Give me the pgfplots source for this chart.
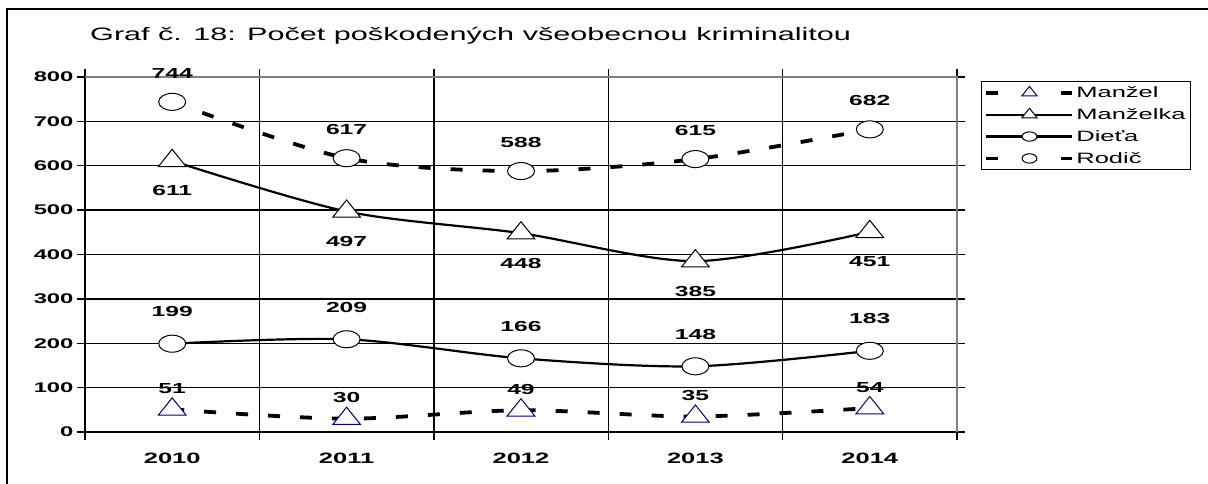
\documentclass[border=0pt]{standalone}
\usepackage{pgfplots}
\pgfplotsset{compat=1.18}
\usepackage{fontspec}
\setmainfont{Liberation Sans}[FakeStretch=1.7]
\newfontfamily\bnum{Liberation Sans}[UprightFont={* Bold}, FakeStretch=1.7]
\definecolor{navy}{RGB}{0,0,128}

\pgfplotstableread{
x manzel manzelka dieta rodic
0 51 611 199 744
1 30 497 209 617
2 49 448 166 588
3 35 385 148 615
4 54 451 183 682
}\data

\pgfplotsset{
  dashlegend/.style={legend image code/.code={
    \draw[mark repeat=2, mark phase=2, ##1, dash pattern=on 11pt off 64pt, every mark/.append style={scale=0.55}]
      plot coordinates {(0pt,0pt) (43pt,0pt) (86pt,0pt)};
  }},
}

\begin{document}
\begin{tikzpicture}[x=1pt,y=1pt]
\useasboundingbox (0,0) rectangle (1208,484);
\draw[line width=2pt] (7,0) -- (7,475) -- (1208,475);
\node[anchor=west,inner sep=0pt,font=\fontsize{18}{21}\selectfont] at (90,448) {Graf č. 18: Počet poškodených všeobecnou kriminalitou};
\begin{axis}[
  at={(172.2pt,52pt)}, anchor=origin,
  scale only axis, width=872pt, height=355pt,
  xmin=-0.5, xmax=4.5, ymin=0, ymax=800,
  xtick={0,...,4}, xticklabels={2010,2011,2012,2013,2014},
  minor xtick={-0.5,0.5,...,4.5},
  ytick={0,100,...,800},
  major x tick style={draw=none},
  tick align=outside, major tick length=8pt, minor tick length=8pt,
  xminorgrids, ymajorgrids,
  grid style={black, line width=1.4pt}, minor grid style={black, line width=1.4pt},
  axis line style={black, line width=1.6pt},
  tick style={black, line width=1.4pt},
  /pgf/number format/assume math mode=true,
  yticklabel style={font=\fontsize{14}{16}\selectfont\bnum, xshift=0pt},
  xticklabel style={font=\fontsize{15}{17}\selectfont\bnum, yshift=-9pt},
  every node near coord/.append style={font=\fontsize{14.5}{17}\selectfont\bnum, text=black},
  legend style={at={(1.0275,0.989)}, anchor=north west, draw=black, line width=1.2pt,
    font=\fontsize{15}{17}\selectfont, cells={anchor=west}, row sep=5.5pt, inner sep=3pt},
  legend image code/.code={
    \draw[mark repeat=2, mark phase=2, #1, every mark/.append style={scale=0.55}]
      plot coordinates {(0pt,0pt) (43pt,0pt) (86pt,0pt)};
  },
  clip=false,
]
\addplot[black, line width=3.8pt, dash pattern=on 12pt off 20pt, smooth, tension=0.5,
  mark=triangle*, mark size=16pt,
  mark options={solid, draw=navy, fill=white, line width=1pt, yscale=0.72},
  dashlegend,
  nodes near coords, every node near coord/.append style={anchor=south, yshift=12pt}]
  table[x=x, y=manzel] {\data};
\addlegendentry{Manžel}
\addplot[black, line width=2.2pt, smooth, tension=0.5,
  mark=triangle*, mark size=16pt,
  mark options={solid, draw=black, fill=white, line width=1pt, yscale=0.72},
  nodes near coords, nodes near coords align=below,
  every node near coord/.append style={yshift=-21pt}]
  table[x=x, y=manzelka] {\data};
\addlegendentry{Manželka}
\addplot[black, line width=2.2pt, smooth, tension=0.5,
  mark=*, mark size=13.5pt,
  mark options={solid, draw=black, fill=white, line width=1pt, yscale=0.63},
  nodes near coords, every node near coord/.append style={anchor=south, yshift=23pt}]
  table[x=x, y=dieta] {\data};
\addlegendentry{Dieťa}
\addplot[black, line width=3.8pt, dash pattern=on 12pt off 20pt, smooth, tension=0.5,
  mark=*, mark size=13.5pt,
  mark options={solid, draw=black, fill=white, line width=1pt, yscale=0.63},
  dashlegend,
  nodes near coords, every node near coord/.append style={anchor=south, yshift=20pt}]
  table[x=x, y=rodic] {\data};
\addlegendentry{Rodič}
\draw[gray, line width=1.6pt] (rel axis cs:0,1) -- (rel axis cs:1,1) -- (rel axis cs:1,0);
\end{axis}
\end{tikzpicture}
\end{document}
